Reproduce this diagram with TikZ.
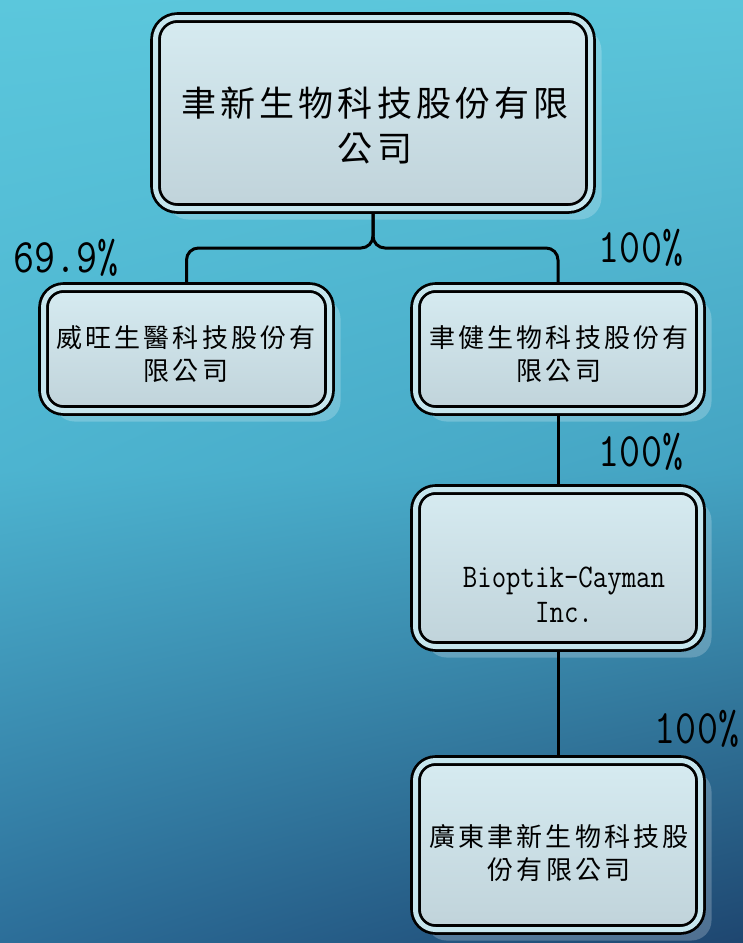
\documentclass[tikz,border=0pt]{standalone}
\usepackage{fontspec}
\usepackage{graphicx}
\usetikzlibrary{shadows,shadings}
\newfontfamily\cjk{Noto Sans CJK TC}[LetterSpace=12]
\definecolor{bgtl}{HTML}{5BC7DC}
\definecolor{bgtr}{HTML}{5CC5DA}
\definecolor{bgml}{HTML}{4DB4D0}
\definecolor{bgmr}{HTML}{44A3C2}
\definecolor{bgbl}{HTML}{2C6E99}
\definecolor{bgbr}{HTML}{1E4670}
\definecolor{boxhi}{HTML}{D6EBF1}
\definecolor{boxlo}{HTML}{C0D3DA}
\definecolor{boxgap}{HTML}{C6E6EE}
\newcommand{\narrow}[1]{\scalebox{0.85}[1]{#1}}

\begin{document}
\begin{tikzpicture}[x=1pt, y=-1pt,
    box/.style={rounded corners=20pt, draw=black, line width=2.8pt, double=boxgap, double distance=5pt,
        top color=boxhi, bottom color=boxlo, outer sep=5.3pt,
        drop shadow={shadow xshift=11pt, shadow yshift=-11pt, fill=white, opacity=0.22}},
    cjktext/.style={align=center, inner sep=0pt, font=\cjk\fontsize{26}{33}\selectfont},
    pct/.style={inner sep=0pt, font=\ttfamily\fontsize{48}{48}\selectfont},
    link/.style={draw=black, line width=3pt, rounded corners=12pt}]
    \useasboundingbox (0,0) rectangle (743,943);
    \shade[upper left=bgtl, upper right=bgtr, lower left=bgml, lower right=bgmr] (0,0) rectangle (743,471);
    \shade[upper left=bgml, upper right=bgmr, lower left=bgbl, lower right=bgbr] (0,470) rectangle (743,943);

    \node[box, rounded corners=22pt, minimum width=435pt, minimum height=191pt] (xinbio) at (373,113) {};
    \node[box, minimum width=286pt, minimum height=123pt] (weiwang) at (186.5,349) {};
    \node[box, minimum width=285pt, minimum height=123pt] (jianbio) at (558,349) {};
    \node[box, minimum width=285pt, minimum height=157pt] (cayman) at (558,568) {};
    \node[box, minimum width=285pt, minimum height=169pt] (guangdong) at (558,845) {};

    \node[cjktext, font=\cjk\fontsize{35}{45}\selectfont] (xintext) at (375,125) {聿新生物科技股份有限\\公司};
    \node[cjktext] (weitext) at (186,354) {威旺生醫科技股份有\\限公司};
    \node[cjktext] (jiantext) at (559,354) {聿健生物科技股份有\\限公司};
    \node[align=center, inner sep=0pt, font=\ttfamily\fontsize{33}{35}\selectfont] (caymantext) at (564,595) {\narrow{Bioptik-Cayman}\\\narrow{Inc.}};
    \node[cjktext] (guangtext) at (559,853) {廣東聿新生物科技股\\份有限公司};

    \node[pct] (pweiwang) at (66,258) {\narrow{69.9\%}};
    \node[pct] (pjianbio) at (641,248) {\narrow{100\%}};
    \node[pct] (pcayman) at (641,452) {\narrow{100\%}};
    \node[pct] (pguangdong) at (697,729) {\narrow{100\%}};

    \coordinate (split) at (373,248);
    \draw[link] (xinbio.south) -- (split) -| (weiwang.north);
    \draw[link] (xinbio.south) -- (split) -| (jianbio.north);
    \draw[link] (jianbio.south) -- (cayman.north);
    \draw[link] (cayman.south) -- (guangdong.north);
\end{tikzpicture}
\end{document}
